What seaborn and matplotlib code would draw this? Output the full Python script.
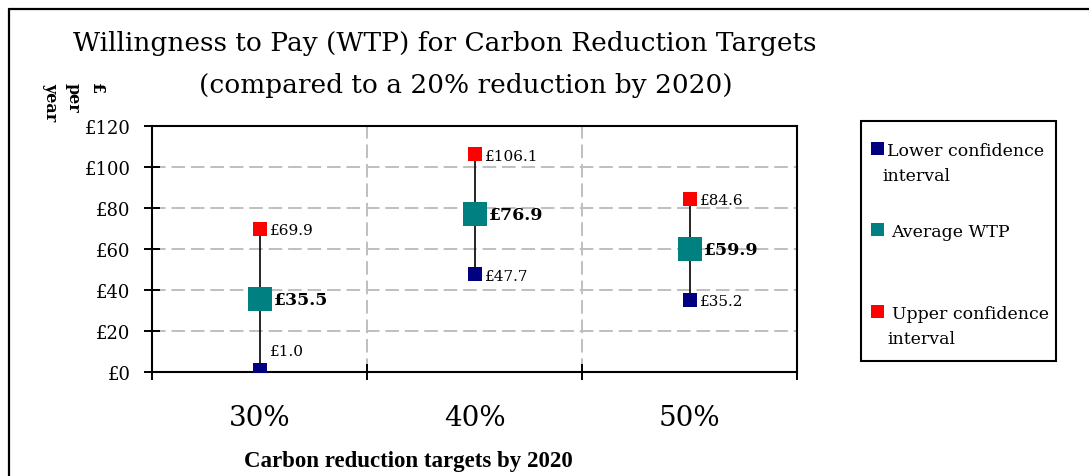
import numpy as np
import pandas as pd
import matplotlib
matplotlib.use("Agg")
import matplotlib.pyplot as plt
import seaborn as sns
from matplotlib.patches import Rectangle
from matplotlib.lines import Line2D

# ---- data ----
categories = ["30%", "40%", "50%"]
lower_ci = [1.0, 47.7, 35.2]
average_wtp = [35.5, 76.9, 59.9]
upper_ci = [69.9, 106.1, 84.6]
yticks = [0, 20, 40, 60, 80, 100, 120]

title_line1 = "Willingness to Pay (WTP) for Carbon Reduction Targets"
title_line2 = "(compared to a 20% reduction by 2020)"
x_label = "Carbon reduction targets by 2020"
y_label = "£\nper\nyear"
legend_labels = ["Lower confidence\ninterval", "Average WTP", "Upper confidence\ninterval"]

NAVY = "#000080"
TEAL = "#008080"
RED = "#FF0000"
GRID = "#BFBFBF"

sns.set_theme(style="white")
plt.rcParams["font.family"] = ["DejaVu Serif", "DejaVu Sans"]
plt.rcParams["text.color"] = "black"
plt.rcParams["axes.labelcolor"] = "black"
plt.rcParams["xtick.color"] = "black"
plt.rcParams["ytick.color"] = "black"

W, H = 1089, 477
fig = plt.figure(figsize=(W / 100, H / 100), dpi=100)

def fx(px):
    return px / W

def fy(py):
    return 1 - py / H

ax = fig.add_axes([fx(152), fy(373), fx(797) - fx(152), fy(127) - fy(373)])

xpos = np.arange(len(categories))
df = pd.DataFrame({
    "x": np.tile(xpos, 3),
    "value": lower_ci + average_wtp + upper_ci,
    "series": ["Lower"] * 3 + ["Average"] * 3 + ["Upper"] * 3,
})

# high-low lines
ax.vlines(xpos, lower_ci, upper_ci, color="black", linewidth=1.2, zorder=3)

sizes = {"Lower": 9.4 ** 2, "Average": 16.6 ** 2, "Upper": 9.4 ** 2}
colors = {"Lower": NAVY, "Average": TEAL, "Upper": RED}
for name in ["Lower", "Upper", "Average"]:
    sub = df[df["series"] == name]
    sns.scatterplot(data=sub, x="x", y="value", ax=ax, marker="s",
                    s=sizes[name], color=colors[name], linewidth=0,
                    zorder=4, legend=False)

# data labels
for i in range(len(categories)):
    ax.annotate(f"£{upper_ci[i]:.1f}", (xpos[i], upper_ci[i]), xytext=(7.5, -1),
                textcoords="offset points", va="center", ha="left", fontsize=11)
    ax.annotate(f"£{average_wtp[i]:.1f}", (xpos[i], average_wtp[i]), xytext=(10.4, 0),
                textcoords="offset points", va="center", ha="left", fontsize=12.5,
                fontweight="bold")
    if lower_ci[i] < 10:
        off = (7.5, 13.5)
    else:
        off = (7.5, -1)
    ax.annotate(f"£{lower_ci[i]:.1f}", (xpos[i], lower_ci[i]), xytext=off,
                textcoords="offset points", va="center", ha="left", fontsize=11)

ax.set_xlim(-0.5, len(categories) - 0.5)
ax.set_ylim(0, 120)
ax.set_yticks(yticks)
ax.set_yticklabels([f"£{v}" for v in yticks], fontsize=13)
ax.set_xticks(np.arange(-0.5, len(categories), 1.0))
ax.set_xticklabels([])
ax.set_xticks(xpos, minor=True)
ax.set_xticklabels(categories, minor=True, fontsize=20)
ax.tick_params(axis="x", which="minor", length=0, pad=23)
ax.tick_params(axis="both", which="major", direction="inout", length=11, width=1.4,
               color="black", bottom=True, left=True)
ax.tick_params(axis="y", pad=10, colors="black")
ax.set_xlabel("")
ax.set_ylabel("")

for s in ax.spines.values():
    s.set_visible(True)
    s.set_color("black")
    s.set_linewidth(1.5)

ax.grid(True, which="major", axis="both", color=GRID, linestyle=(0, (7, 3)), linewidth=1.4)
ax.set_axisbelow(True)

# titles
fig.text(fx(445), fy(51), title_line1, ha="center", va="baseline", fontsize=19)
fig.text(fx(466), fy(93), title_line2, ha="center", va="baseline", fontsize=19)

# axis labels
fig.text(fx(408), fy(462), x_label, ha="center", va="center", fontsize=16.5,
         fontweight="bold", family="Liberation Serif")
fig.text(fx(42), fy(83), y_label, ha="left", va="top", rotation=270,
         fontsize=11.5, fontweight="bold", linespacing=1.45, multialignment="left")

# legend box (drawn manually)
fig.add_artist(Rectangle((fx(861), fy(362)), fx(1056) - fx(861), fy(122) - fy(362),
                         transform=fig.transFigure, facecolor="white",
                         edgecolor="black", linewidth=1.5))
leg_items = [(NAVY, 143, 887, legend_labels[0]),
             (TEAL, 224, 891, legend_labels[1]),
             (RED, 306, 892, legend_labels[2])]
for col, top, tx, lab in leg_items:
    fig.add_artist(Rectangle((fx(871), fy(top + 13)), fx(13), 13 / H,
                             transform=fig.transFigure, facecolor=col,
                             edgecolor="none"))
    lines = lab.split("\n")
    fig.text(fx(tx), fy(top + 9), lines[0], ha="left", va="center", fontsize=12.5)
    if len(lines) > 1:
        fig.text(fx(tx - 5), fy(top + 34), lines[1], ha="left", va="center", fontsize=12.5)

# outer frame lines
fig.add_artist(Line2D([fx(9), fx(1089)], [fy(10), fy(10)], transform=fig.transFigure,
                      color="black", linewidth=1.6))
fig.add_artist(Line2D([fx(9), fx(9)], [fy(10), fy(477)], transform=fig.transFigure,
                      color="black", linewidth=1.6))

fig.savefig("out.png", dpi=100, facecolor="white")
